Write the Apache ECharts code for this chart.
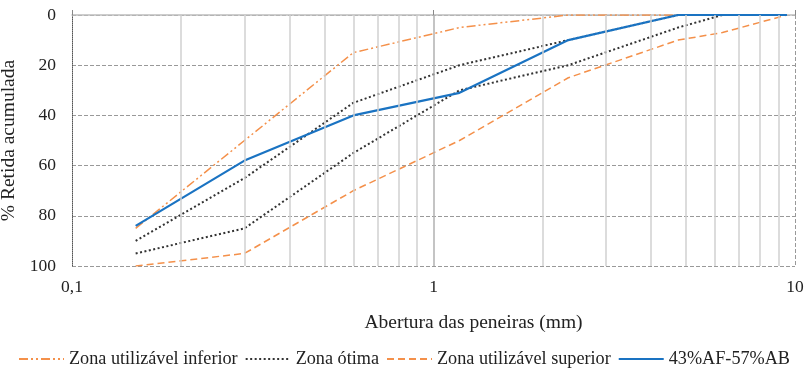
<!DOCTYPE html>
<html><head><meta charset="utf-8">
<script src="https://cdn.jsdelivr.net/npm/echarts@6/dist/echarts.min.js"></script>
<style>html,body{margin:0;padding:0;background:#fff}#c{width:805px;height:368px}</style>
</head><body><div id="c"></div>
<script>
const sieves = [0.15, 0.3, 0.6, 1.18, 2.36, 4.75, 6.3, 9.5];
const utilInf = [85, 50, 15, 5, 0, 0, 0, 0];
const otimaInf = [90, 65, 35, 20, 10, 0, 0, 0];
const otimaSup = [95, 85, 55, 30, 20, 5, 0, 0];
const utilSup = [100, 95, 70, 50, 25, 10, 7, 0];
const mix = [84, 58, 40, 31, 10, 0, 0, 0];
const minorX = [0.2, 0.3, 0.4, 0.5, 0.6, 0.7, 0.8, 0.9, 2, 3, 4, 5, 6, 7, 8, 9];
const majorX = [1];

const pair = arr => sieves.map((s, i) => [s, arr[i]]);
const FONT = '"Liberation Serif", "Times New Roman", serif';
const orange = '#F4904A';

const chart = echarts.init(document.getElementById('c'));
chart.setOption({
  animation: false,
  textStyle: { fontFamily: FONT },
  grid: { left: 72, right: 10, top: 15, bottom: 102, containLabel: false, outerBoundsMode: 'none' },
  xAxis: [{
    type: 'log', logBase: 10, min: 0.1, max: 10, position: 'bottom',
    axisLine: { show: false }, axisTick: { show: false }, splitLine: { show: false },
    axisLabel: { fontFamily: FONT, fontSize: 17.5, color: '#222', margin: 12,
      formatter: v => String(v).replace('.', ',') },
    name: 'Abertura das peneiras (mm)', nameLocation: 'middle', nameGap: 47,
    nameTextStyle: { fontFamily: FONT, fontSize: 19.5, color: '#222', padding: [0, 0, 0, 80] }
  }, {
    type: 'log', logBase: 10, min: 0.1, max: 10, position: 'top',
    axisLine: { show: true, lineStyle: { color: '#bdbdbd', width: 1.5 } },
    axisTick: { show: true, length: 5, lineStyle: { color: '#888' } },
    axisLabel: { show: false }, splitLine: { show: false }
  }],
  yAxis: {
    type: 'value', inverse: true, min: 0, max: 100, interval: 20,
    axisLine: { show: true, lineStyle: { color: '#555', type: 'dotted', width: 1 } },
    axisTick: { show: false },
    splitLine: { show: true, lineStyle: { color: '#999', type: 'dashed', width: 1 } },
    axisLabel: { fontFamily: FONT, fontSize: 17.5, color: '#222', margin: 16 },
    name: '% Retida acumulada', nameLocation: 'middle', nameGap: 47, nameRotate: 90,
    nameTextStyle: { fontFamily: FONT, fontSize: 19.5, color: '#222' }
  },
  legend: {
    left: 13, top: 345, itemWidth: 45, itemHeight: 10, itemGap: 7,
    itemStyle: { opacity: 0 },
    textStyle: { fontFamily: FONT, fontSize: 18.2, color: '#222' },
    data: ['Zona utilizável inferior', 'Zona ótima', 'Zona utilizável superior', '43%AF-57%AB']
  },
  series: [
    {
      type: 'line', name: 'grid', data: [], z: 1, silent: true,
      markLine: {
        silent: true, symbol: 'none', label: { show: false }, animation: false,
        lineStyle: { color: '#d0d0d0', type: 'solid', width: 1.5 },
        data: minorX.map(v => ({ xAxis: v }))
          .concat(majorX.map(v => ({ xAxis: v, lineStyle: { color: '#b0b0b0', type: 'solid', width: 1.5 } })))
          .concat([{ xAxis: 10, lineStyle: { color: '#999', type: 'dashed', width: 1 } }])
      }
    },
    { type: 'line', name: 'Zona utilizável inferior', data: pair(utilInf), symbol: 'none', z: 3,
      lineStyle: { color: orange, width: 1.5, type: [9, 3, 2, 3, 2, 3] }, itemStyle: { color: orange } },
    { type: 'line', name: 'Zona ótima', data: pair(otimaInf), symbol: 'none', z: 3,
      lineStyle: { color: '#333', width: 2, type: [2, 2.5] }, itemStyle: { color: '#333' } },
    { type: 'line', name: 'Zona ótima', data: pair(otimaSup), symbol: 'none', z: 3,
      lineStyle: { color: '#333', width: 2, type: [2, 2.5] }, itemStyle: { color: '#333' } },
    { type: 'line', name: 'Zona utilizável superior', data: pair(utilSup), symbol: 'none', z: 3,
      lineStyle: { color: orange, width: 1.5, type: [7, 4] }, itemStyle: { color: orange } },
    { type: 'line', name: '43%AF-57%AB', data: pair(mix), symbol: 'none', z: 4,
      lineStyle: { color: '#1A73C2', width: 2.2 }, itemStyle: { color: '#1A73C2' } }
  ]
});
</script></body></html>
